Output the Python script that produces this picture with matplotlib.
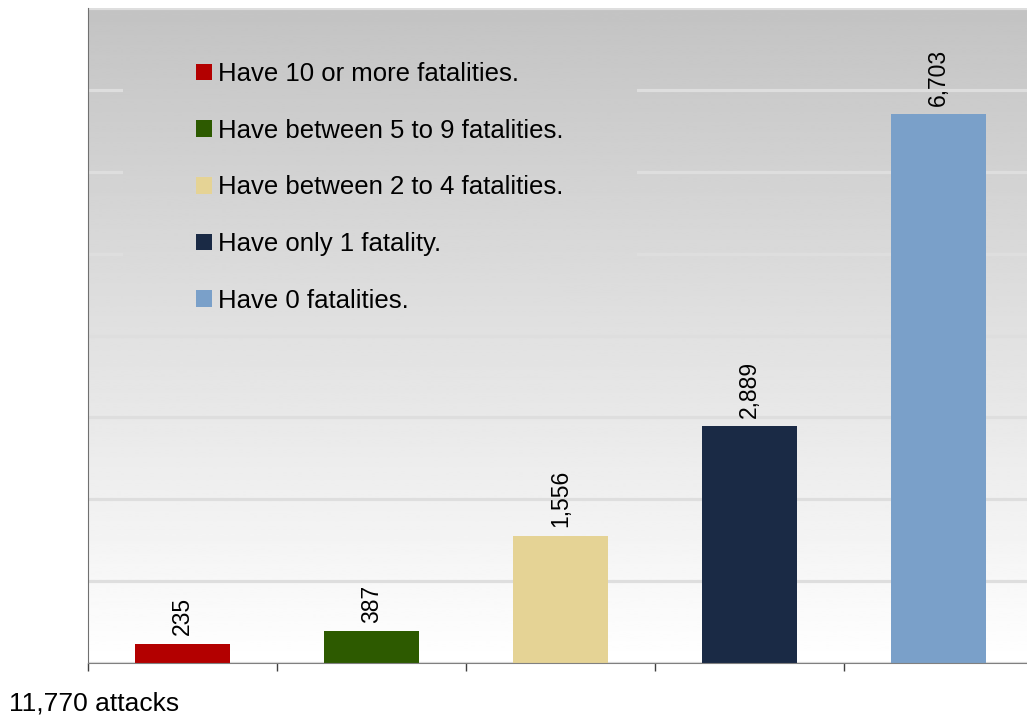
import numpy as np
import matplotlib
matplotlib.use("Agg")
from matplotlib import pyplot as plt
from matplotlib.patches import Rectangle

plt.rcParams['font.family'] = ['Liberation Sans', 'DejaVu Sans']

labels = ['Have 10 or more fatalities.', 'Have between 5 to 9 fatalities.',
          'Have between 2 to 4 fatalities.', 'Have only 1 fatality.',
          'Have 0 fatalities.']
counts = [235, 387, 1556, 2889, 6703]
colors = ['#b30000', '#2d5a00', '#e5d395', '#1a2a45', '#7aa0c9']
total_text = '11,770 attacks'

fig = plt.figure(figsize=(10.27, 7.19), dpi=100)
W, H = 1027.0, 719.0
# axes runs a bit past the right edge like the original
ax = fig.add_axes([88 / W, (H - 663) / H, 945 / W, 655 / H])

ax.set_xlim(-0.5, 4.5)
ax.set_ylim(0, 8000)

# gray-to-white background (top ~ #c3c3c3, bottom white)
grad = np.linspace(1, 0, 256).reshape(-1, 1)
grad = 1 - grad * (1 - 195 / 255.)
ax.imshow(grad, cmap='gray', vmin=0, vmax=1, aspect='auto',
          extent=(0, 1, 0, 1), transform=ax.transAxes, zorder=0,
          interpolation='bilinear')

# same gradient again over the gridlines, behind the legend
cover = ax.imshow(grad, cmap='gray', vmin=0, vmax=1, aspect='auto',
                  extent=(0, 1, 0, 1), transform=ax.transAxes, zorder=0.8,
                  interpolation='bilinear')
clip = Rectangle((35 / 945, (663 - 320) / 655), (636 - 123) / 945,
                 (320 - 20) / 655, transform=ax.transAxes, facecolor='none',
                 edgecolor='none')
ax.add_patch(clip)
cover.set_clip_path(clip)

ax.set_yticks(np.arange(0, 8001, 1000))
ax.yaxis.grid(True, color='#dedede', lw=2.3)
ax.set_axisbelow(True)
for gl in ax.get_ygridlines():
    gl.set_zorder(0.5)
ax.tick_params(axis='y', length=0, labelleft=False)

x = np.arange(len(counts))
for i in range(len(counts)):
    ax.bar(x[i], counts[i], width=0.505, color=colors[i], label=labels[i],
           zorder=2)
    ax.annotate('{:,}'.format(counts[i]), (x[i], counts[i]),
                xytext=(0, 6), textcoords='offset points', rotation=90,
                ha='center', va='bottom', fontsize=16.5, zorder=3)

ax.set_xticks(np.arange(-0.5, 4.6, 1))
ax.tick_params(axis='x', direction='out', length=6, width=1, color='#404040',
               labelbottom=False)

for s in ['top', 'right']:
    ax.spines[s].set_visible(False)
ax.spines['left'].set_color('#707070')
ax.spines['bottom'].set_color('#808080')
ax.spines['left'].set_zorder(4)
ax.spines['bottom'].set_zorder(4)

leg = ax.legend(loc='upper left', bbox_to_anchor=((196 - 88) / 945, (663 - 62) / 655),
                frameon=False, fontsize=18.5, handlelength=0.62,
                handleheight=0.62, handletextpad=0.25, labelspacing=1.27,
                borderpad=0, borderaxespad=0)
leg.set_zorder(5)

fig.text(9 / W, (H - 703) / H, total_text, fontsize=19, va='center', ha='left')

fig.savefig('out.png', dpi=100)
